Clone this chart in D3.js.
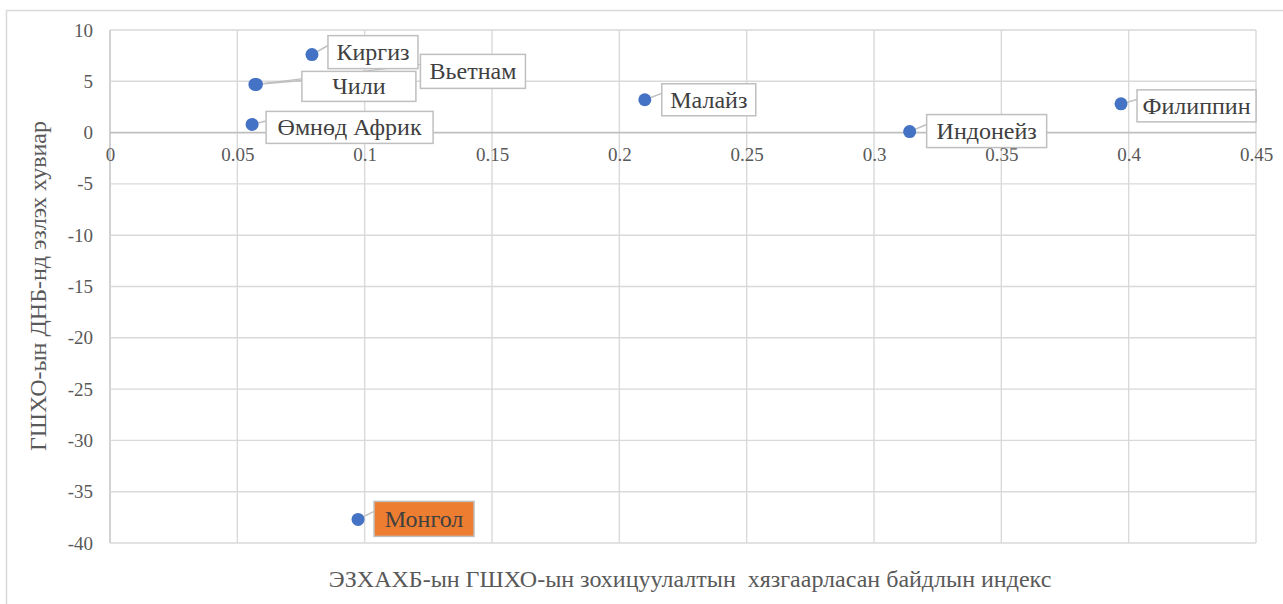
<!DOCTYPE html>
<html><head><meta charset="utf-8">
<script src="https://cdn.jsdelivr.net/npm/d3@7"></script>
</head>
<body style="margin:0"><svg id="c" width="1283" height="604" font-family="Liberation Serif"></svg>
<script>
// ---- data ----
const countries = ["Киргиз","Вьетнам","Чили","Өмнөд Африк","Малайз","Индонейз","Филиппин","Монгол"];
const indexValues = [0.0793,0.0575,0.0569,0.0558,0.210,0.314,0.397,0.0974];
const gdpShare = [7.6,4.7,4.7,0.8,3.2,0.1,2.8,-37.7];
const xTicks = [0,0.05,0.1,0.15,0.2,0.25,0.3,0.35,0.4,0.45];
const yTicks = [10,5,0,-5,-10,-15,-20,-25,-30,-35,-40];
const xTitle = "ЭЗХАХБ-ын ГШХО-ын зохицуулалтын  хязгаарласан байдлын индекс";
const yTitle = "ГШХО-ын ДНБ-нд эзлэх хувиар";

// ---- layout (label boxes relative to point) ----
const labelLayout = [
  {dx:16, dy:-19, w:90,  h:33, fill:"#fff"},
  {dx:164,dy:-30, w:105, h:34, fill:"#fff"},
  {dx:47, dy:-13, w:114, h:30, fill:"#fff"},
  {dx:14, dy:-13, w:167, h:32, fill:"#fff"},
  {dx:17, dy:-16, w:94,  h:32, fill:"#fff"},
  {dx:17, dy:-17, w:120, h:33, fill:"#fff"},
  {dx:16, dy:-14, w:119, h:32, fill:"#fff"},
  {dx:16, dy:-18, w:100, h:35, fill:"#ED7D31"}
];
const FONT = "Liberation Serif";

const svg = d3.select("#c");
svg.append("rect").attr("x",6.5).attr("y",10.5).attr("width",1290).attr("height",600)
  .attr("fill","#fff").attr("stroke","#d9d9d9").attr("stroke-width",1.5);

const x = d3.scaleLinear().domain([0,0.45]).range([110,1256]);
const y = d3.scaleLinear().domain([-40,10]).range([543,30]);

// grid
const g = svg.append("g");
g.selectAll("line.v").data(xTicks).join("line")
  .attr("x1",d=>x(d)).attr("x2",d=>x(d)).attr("y1",y(10)).attr("y2",y(-40))
  .attr("stroke",d=>d===0?"#bfbfbf":"#d9d9d9").attr("stroke-width",1.4);
g.selectAll("line.h").data(yTicks).join("line")
  .attr("x1",x(0)).attr("x2",x(0.45)).attr("y1",d=>y(d)).attr("y2",d=>y(d))
  .attr("stroke",d=>d===0?"#bfbfbf":"#d9d9d9").attr("stroke-width",d=>d===0?1.8:1.4);

// axes via d3
const xAxis = d3.axisBottom(x).tickValues(xTicks).tickSize(0).tickPadding(15)
  .tickFormat(d=>String(+d.toFixed(2)));
const xa = svg.append("g").attr("transform",`translate(0,${y(0)})`).call(xAxis);
xa.attr("font-family",FONT).attr("font-size",19);
xa.select(".domain").remove();
xa.selectAll("text").attr("font-family",FONT).attr("fill","#595959");

const yAxis = d3.axisLeft(y).tickValues(yTicks).tickSize(0).tickPadding(17)
  .tickFormat(d=>String(d));
const ya = svg.append("g").attr("transform",`translate(${x(0)},0)`).call(yAxis);
ya.attr("font-family",FONT).attr("font-size",19);
ya.select(".domain").remove();
ya.selectAll("text").attr("font-family",FONT).attr("fill","#595959");

// titles
svg.append("text").attr("x",690).attr("y",587).attr("text-anchor","middle")
  .attr("font-family",FONT).attr("font-size",24).attr("fill","#595959")
  .attr("xml:space","preserve").text(xTitle);
svg.append("text").attr("transform","translate(46,286) rotate(-90)").attr("text-anchor","middle")
  .attr("font-family",FONT).attr("font-size",24).attr("fill","#595959").text(yTitle);

// points data
const pts = countries.map((c,i)=>({name:c, vx:indexValues[i], vy:gdpShare[i], L:labelLayout[i]}));

// leader lines
svg.append("g").selectAll("line").data(pts).join("line")
  .attr("x1",d=>x(d.vx)).attr("y1",d=>y(d.vy))
  .attr("x2",d=>x(d.vx)+d.L.dx).attr("y2",d=>y(d.vy)+d.L.dy+Math.min(10,d.L.h*0.3))
  .attr("stroke","#bfbfbf").attr("stroke-width",1.5);

// markers
svg.append("g").selectAll("circle").data(pts).join("circle")
  .attr("cx",d=>x(d.vx)).attr("cy",d=>y(d.vy)).attr("r",6.5)
  .attr("fill","#4472C4");

// label boxes
const lb = svg.append("g").selectAll("g").data(pts).join("g")
  .attr("transform",d=>`translate(${x(d.vx)+d.L.dx},${y(d.vy)+d.L.dy})`);
lb.append("rect").attr("width",d=>d.L.w).attr("height",d=>d.L.h)
  .attr("fill",d=>d.L.fill).attr("stroke","#bfbfbf").attr("stroke-width",1.5);
lb.append("text").attr("x",d=>d.L.w/2).attr("y",d=>d.L.h/2+8)
  .attr("text-anchor","middle").attr("font-family",FONT).attr("font-size",24).attr("fill","#404040")
  .text(d=>d.name);
</script></body></html>
